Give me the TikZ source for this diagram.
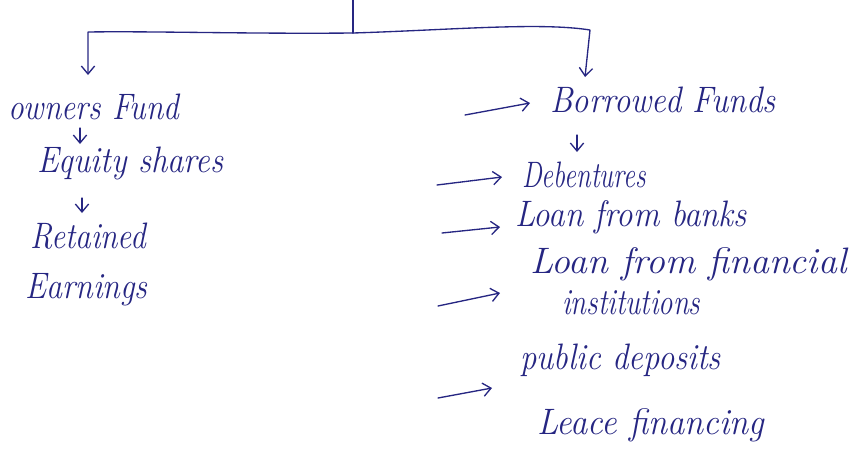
\documentclass[tikz,border=0pt]{standalone}
\usepackage{fontspec}
\usepackage{graphicx}
\usetikzlibrary{arrows.meta}
\definecolor{ink}{RGB}{38,38,130}
\newcommand{\hw}[2]{\scalebox{#1}[1.15]{#2}}
\begin{document}
\begin{tikzpicture}[x=0.75pt,y=-0.75pt,
  hand/.style={anchor=west,inner sep=0pt,text=ink,font=\fontsize{24}{28}\selectfont\itshape},
  pen/.style={draw=ink,line width=1pt,line cap=round,line join=round},
  tip/.style={pen,-{Straight Barb[length=6pt,width=10pt]}}]
\useasboundingbox (0,0) rectangle (857,461);
% labels
\node[hand] (own)   at (8,107)   {\hw{0.98}{owners Fund}};
\node[hand] (eq)    at (37,163)  {\hw{1.02}{Equity shares}};
\node[hand] (ret)   at (30,236)  {\hw{0.98}{Retained}};
\node[hand] (earn)  at (25,290)  {\hw{1.0}{Earnings}};
\node[hand] (bor)   at (550,100) {\hw{1.02}{Borrowed Funds}};
\node[hand] (deb)   at (522,175) {\hw{0.83}{Debentures}};
\node[hand] (lfb)   at (515,217) {\hw{1.03}{Loan from banks}};
\node[hand] (lff)   at (530,264) {\hw{1.18}{Loan from financial}};
\node[hand] (inst)  at (562,303) {\hw{0.9}{institutions}};
\node[hand] (pub)   at (520,360) {\hw{1.02}{public deposits}};
\node[hand] (lease) at (537,425) {\hw{1.08}{Leace financing}};
% tree
\coordinate (top) at (353,0);
\coordinate (j) at (353,33);
\coordinate (lc) at (88,32);
\coordinate (rc) at (590,30);
\coordinate (la) at (88,75);
\coordinate (ra) at (585,77);
\draw[pen] (top) -- (j);
\draw[tip] (j) .. controls (250,34) and (150,31) .. (lc) -- (la);
\draw[tip] (j) .. controls (450,30) and (540,22) .. (rc) -- (ra);
% down arrows
\coordinate (d1s) at (80,128); \coordinate (d1e) at (80,144);
\coordinate (d2s) at (82,198); \coordinate (d2e) at (82,213);
\coordinate (d3s) at (577,135); \coordinate (d3e) at (577,152);
\draw[tip] (d1s) -- (d1e);
\draw[tip] (d2s) -- (d2e);
\draw[tip] (d3s) -- (d3e);
% side arrows
\coordinate (a0) at (465,115); \coordinate (a0e) at (530,103);
\coordinate (a1) at (437,185); \coordinate (a1e) at (502,177);
\coordinate (a2) at (442,233); \coordinate (a2e) at (500,227);
\coordinate (a3) at (438,306); \coordinate (a3e) at (500,293);
\coordinate (a4) at (438,398); \coordinate (a4e) at (492,388);
\foreach \s/\e in {a0/a0e,a1/a1e,a2/a2e,a3/a3e,a4/a4e}
  \draw[tip] (\s) -- (\e);
\end{tikzpicture}
\end{document}
